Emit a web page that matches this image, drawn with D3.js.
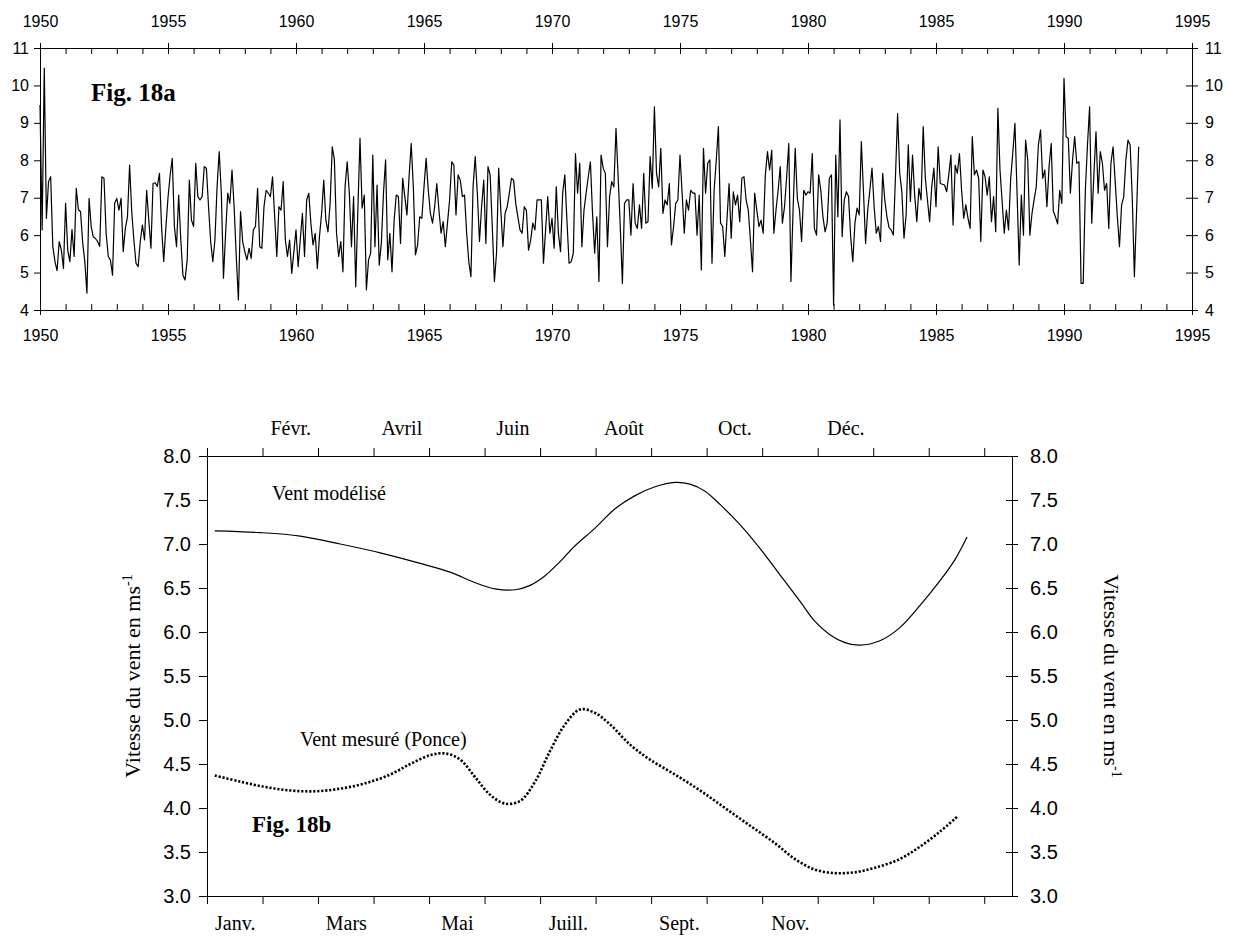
<!DOCTYPE html>
<html lang="fr">
<head>
<meta charset="UTF-8" />
<title>Fig. 18 – vent</title>
<script src="https://cdn.jsdelivr.net/npm/d3@7"></script>
<style>
body{margin:0;background:#fff}
svg{display:block}
.tick line,.domain{stroke:#000}
</style>
</head>
<body>
<svg id="chart" width="1237" height="941"></svg>
<script>
/* ===== Fig. 18a : monthly wind, Jan 1950 – Dec 1992 ===== */
const startYear=1950;
const yearTicks=[1950,1955,1960,1965,1970,1975,1980,1985,1990,1995];
const windTicksA=[4,5,6,7,8,9,10,11];
const monthlyWind=[
 9.48,6.14,10.46,6.45,7.43,7.56,5.7,5.3,5.05,5.83,5.6,5.11,
 6.85,5.6,5.29,6.15,5.43,7.25,6.68,6.63,5.8,5.3,4.45,6.98,
 6.23,5.95,5.91,5.83,5.7,7.56,7.52,6.05,5.43,5.34,4.93,6.85,
 6.98,6.67,6.98,5.56,6.18,6.49,7.87,6.63,5.87,5.25,5.16,5.83,
 6.27,5.87,7.2,6.4,5.65,7.38,7.4,7.3,7.65,6.2,5.3,6.2,
 7.0,7.6,8.05,6.23,5.69,7.07,5.87,4.93,4.8,5.34,7.47,6.4,
 6.23,7.92,7.03,6.94,7.03,7.83,7.79,6.76,5.83,5.29,5.87,7.29,
 8.23,7.12,4.85,6.05,7.12,6.85,7.74,6.76,5.43,4.27,6.63,5.83,
 5.56,5.34,5.65,5.38,6.14,6.23,7.25,5.69,5.65,6.76,7.2,7.12,
 7.03,7.56,6.5,5.43,6.76,6.67,7.43,5.87,5.43,5.87,4.98,5.56,
 6.14,5.16,5.87,6.58,5.43,6.94,7.12,6.3,5.74,6.05,5.11,5.96,
 6.58,7.47,6.4,6.09,6.85,8.36,8.01,6.05,5.43,5.83,5.02,7.29,
 7.96,7.12,5.69,7.03,4.62,6.67,8.59,6.72,7.07,4.54,5.34,5.52,
 8.14,5.69,7.34,5.2,5.78,7.12,8.01,5.34,6.05,5.02,6.4,7.07,
 7.03,5.78,7.52,7.03,6.54,7.56,8.45,7.29,5.47,5.74,6.49,6.45,
 7.29,8.05,7.2,6.58,6.32,6.76,7.38,6.67,6.05,6.36,5.69,6.32,
 6.94,7.96,7.87,6.54,7.61,7.47,7.03,7.07,6.05,5.29,4.89,7.29,
 8.1,7.12,5.83,6.76,7.47,5.78,7.83,7.61,6.23,4.76,5.52,7.79,
 6.67,5.69,6.58,6.76,7.12,7.52,7.47,6.85,6.49,6.14,6.05,6.76,
 6.67,5.6,5.87,6.32,6.14,6.94,6.94,6.94,5.25,6.14,7.03,6.05,
 6.45,5.65,7.29,6.05,5.56,7.12,7.61,6.4,5.25,5.29,5.52,8.18,
 7.12,7.92,5.69,6.67,7.12,7.56,7.96,6.58,5.52,6.49,4.76,8.14,
 7.79,7.65,5.69,7.03,7.43,7.29,8.85,7.56,6.23,4.71,6.85,6.94,
 6.94,6.0,7.38,6.32,6.18,6.81,6.18,7.65,6.32,6.36,8.1,7.25,
 9.43,7.65,7.29,8.32,6.58,6.94,6.81,7.38,5.74,6.23,6.85,6.94,
 8.14,7.12,6.05,6.94,6.67,7.2,7.12,7.12,6.0,7.07,5.07,8.32,
 7.12,7.92,8.01,5.25,7.2,8.0,8.9,6.32,6.23,5.43,6.4,7.38,
 5.92,7.16,6.81,7.07,6.36,7.52,7.56,6.94,6.67,5.87,5.02,7.12,
 6.67,6.23,6.4,6.05,7.61,8.23,7.74,8.27,6.05,6.67,7.2,7.83,
 6.32,6.76,7.56,8.45,4.76,6.67,8.32,6.98,6.67,5.83,7.2,7.07,
 7.16,7.12,8.18,6.18,6.0,7.61,7.2,6.49,6.09,6.32,7.52,7.61,
 4.13,8.14,6.49,9.08,5.96,6.94,7.16,7.03,5.96,5.29,6.32,6.72,
 6.54,8.5,7.16,5.78,6.67,7.2,7.79,6.76,6.05,6.23,5.83,7.65,
 6.94,6.49,6.2,6.14,6.0,7.56,9.25,7.65,7.15,5.92,6.54,8.41,
 6.9,8.14,7.07,6.36,7.25,6.94,8.9,7.52,6.94,6.36,7.29,7.79,
 6.76,8.36,7.38,7.36,7.34,7.16,7.61,8.14,6.27,7.87,7.65,8.18,
 7.2,6.45,6.81,6.45,6.18,8.63,7.61,7.74,7.52,5.83,7.74,7.56,
 7.07,7.56,6.36,7.03,6.09,9.39,7.74,6.9,6.05,6.67,6.14,7.5,
 8.2,8.99,7.12,5.2,7.07,6.0,8.54,8.01,6.0,6.58,6.95,7.29,
 8.41,8.81,7.52,7.74,6.76,7.83,8.45,6.63,6.49,6.3,7.2,6.85,
 10.19,8.63,8.59,7.12,8.0,8.63,7.92,7.96,4.71,4.71,7.2,8.4,
 9.43,6.32,7.6,8.76,7.12,8.23,7.92,7.2,7.38,6.18,7.92,8.36,
 7.43,6.5,5.69,6.81,7.03,8.01,8.54,8.41,7.0,4.89,6.6,8.36
];

/* ===== Fig. 18b : mean annual cycle, x in months (Janv. = 1) ===== */
const monthsBottom=['Janv.','Mars','Mai','Juill.','Sept.','Nov.'];
const monthsBottomPos=[1,3,5,7,9,11];
const monthsTop=['Févr.','Avril','Juin','Août','Oct.','Déc.'];
const monthsTopPos=[2,4,6,8,10,12];
const windTicksB=[3.0,3.5,4.0,4.5,5.0,5.5,6.0,6.5,7.0,7.5,8.0];
const modelMonth=[0.64,1.45,2.18,2.9,3.62,4.34,4.88,5.33,5.69,6.05,6.32,6.59,6.86,7.13,7.49,7.85,8.21,8.57,8.93,9.2,9.47,9.74,10.1,10.46,10.82,11.18,11.45,11.72,11.99,12.26,12.62,12.98,13.34,13.7,13.97,14.19];
const modelWind =[7.15,7.13,7.09,7.0,6.9,6.78,6.68,6.56,6.49,6.48,6.53,6.64,6.8,6.98,7.18,7.4,7.55,7.65,7.7,7.68,7.6,7.45,7.22,6.95,6.65,6.35,6.12,5.97,5.88,5.85,5.9,6.05,6.3,6.58,6.82,7.08];
const ponceMonth=[0.64,1.09,1.54,1.99,2.45,2.9,3.35,3.8,4.16,4.52,4.79,5.06,5.33,5.6,5.87,6.14,6.41,6.68,6.95,7.22,7.49,7.76,8.12,8.48,8.93,9.38,9.83,10.28,10.73,11.09,11.45,11.81,12.17,12.53,12.98,13.34,13.7,14.01];
const ponceWind =[4.37,4.3,4.24,4.2,4.19,4.22,4.28,4.38,4.5,4.6,4.62,4.55,4.35,4.15,4.05,4.08,4.3,4.65,4.95,5.12,5.08,4.95,4.72,4.55,4.38,4.2,4.0,3.8,3.6,3.42,3.3,3.26,3.27,3.32,3.42,3.56,3.73,3.9];

const SANS='"Liberation Sans",Arial,sans-serif', SERIF='"Liberation Serif","Times New Roman",serif';
const svg=d3.select('#chart');
const txt=(g,size,fam)=>g.attr('font-size',size).attr('font-family',fam).selectAll('text').attr('fill','#000');

/* ---------- Fig. 18a ---------- */
const xa=d3.scaleLinear().domain([1950,1995]).range([40,1192]);
const ya=d3.scaleLinear().domain([4,11]).range([310,48]);
const allYears=d3.range(yearTicks[0],yearTicks[yearTicks.length-1]+1);
const A=svg.append('g');

A.append('g').attr('transform','translate(0,48)')
  .call(d3.axisTop(xa).tickValues(allYears).tickSize(-6).tickSizeOuter(0).tickFormat(''));
txt(A.append('g').attr('transform','translate(0,48)')
  .call(d3.axisTop(xa).tickValues(yearTicks).tickSize(5).tickSizeOuter(0).tickPadding(16).tickFormat(d3.format('d'))),16,SANS);
A.append('g').attr('transform','translate(0,310)')
  .call(d3.axisBottom(xa).tickValues(allYears).tickSize(-6).tickSizeOuter(0).tickFormat(''));
txt(A.append('g').attr('transform','translate(0,310)')
  .call(d3.axisBottom(xa).tickValues(yearTicks).tickSize(5).tickSizeOuter(0).tickPadding(15).tickFormat(d3.format('d'))),16,SANS);
txt(A.append('g').attr('transform','translate(40,0)')
  .call(d3.axisLeft(ya).tickValues(windTicksA).tickSize(6).tickSizeOuter(0).tickPadding(5).tickFormat(d3.format('d'))),16,SANS);
txt(A.append('g').attr('transform','translate(1192,0)')
  .call(d3.axisRight(ya).tickValues(windTicksA).tickSize(6).tickSizeOuter(0).tickPadding(7).tickFormat(d3.format('d'))),16,SANS);
A.append('g').attr('transform','translate(1192,0)')
  .call(d3.axisRight(ya).tickValues(windTicksA).tickSize(-6).tickSizeOuter(0).tickFormat(''));

A.append('path').datum(monthlyWind).attr('fill','none').attr('stroke','#000').attr('stroke-width',1.2)
  .attr('stroke-linejoin','round')
  .attr('d',d3.line().x((d,i)=>xa(startYear+i/12)).y(d=>ya(d)));

A.append('text').attr('x',91).attr('y',101).attr('font-family',SERIF)
  .attr('font-size',25).attr('font-weight','bold').text('Fig. 18a');

/* ---------- Fig. 18b ---------- */
const xb=d3.scaleLinear().domain([0.5,15]).range([207,1012]);
const yb=d3.scaleLinear().domain([3,8]).range([896,456]);
const bounds=d3.range(0.5,15,1);
const B=svg.append('g');

B.append('g').attr('transform','translate(0,896)')
  .call(d3.axisBottom(xb).tickValues(bounds).tickSize(8).tickSizeOuter(0).tickFormat(''));
txt(B.append('g').attr('transform','translate(0,896)')
  .call(d3.axisBottom(xb).tickValues(monthsBottomPos).tickSize(0).tickPadding(20).tickFormat((d,i)=>monthsBottom[i]))
  .call(g=>g.select('.domain').remove()),20,SERIF);
B.append('g').attr('transform','translate(0,456)')
  .call(d3.axisTop(xb).tickValues(bounds).tickSize(8).tickSizeOuter(0).tickFormat(''));
txt(B.append('g').attr('transform','translate(0,456)')
  .call(d3.axisTop(xb).tickValues(monthsTopPos).tickSize(0).tickPadding(21).tickFormat((d,i)=>monthsTop[i]))
  .call(g=>g.select('.domain').remove()),20,SERIF);

txt(B.append('g').attr('transform','translate(207,0)')
  .call(d3.axisLeft(yb).tickValues(windTicksB).tickSize(8).tickSizeOuter(0).tickPadding(8).tickFormat(d3.format('.1f'))),20,SANS);
txt(B.append('g').attr('transform','translate(1012,0)')
  .call(d3.axisRight(yb).tickValues(windTicksB).tickSize(6).tickSizeOuter(0).tickPadding(12).tickFormat(d3.format('.1f'))),20,SANS);
B.append('g').attr('transform','translate(1012,0)')
  .call(d3.axisRight(yb).tickValues(windTicksB).tickSize(-6).tickSizeOuter(0).tickFormat(''));

const lineB=d3.line().curve(d3.curveCatmullRom).x(d=>xb(d[0])).y(d=>yb(d[1]));
B.append('path').datum(d3.zip(modelMonth,modelWind)).attr('fill','none').attr('stroke','#000')
  .attr('stroke-width',1.2).attr('d',lineB);
B.append('path').datum(d3.zip(ponceMonth,ponceWind)).attr('fill','none').attr('stroke','#000')
  .attr('stroke-width',2.6).attr('stroke-dasharray','2.2,1.8').attr('d',lineB);

const T=B.append('g').attr('font-family',SERIF).attr('fill','#000');
T.append('text').attr('x',272).attr('y',500).attr('font-size',20).text('Vent modélisé');
T.append('text').attr('x',300).attr('y',746).attr('font-size',20).text('Vent mesuré (Ponce)');
T.append('text').attr('x',252).attr('y',832).attr('font-size',23).attr('font-weight','bold').text('Fig. 18b');

function yTitle(x,rot){
  const t=T.append('text').attr('transform',`translate(${x},676) rotate(${rot})`)
    .attr('text-anchor','middle').attr('font-size',22);
  t.append('tspan').text('Vitesse du vent en ms');
  t.append('tspan').attr('font-size',14).attr('dy',-8).text('-1');
}
yTitle(140,-90);
yTitle(1104,90);
</script>
</body>
</html>
